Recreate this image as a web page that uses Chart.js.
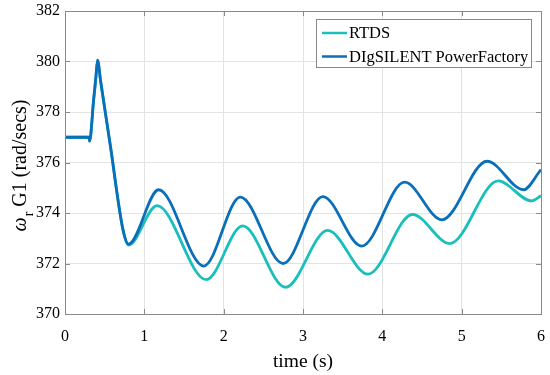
<!DOCTYPE html>
<html>
<head>
<meta charset="utf-8">
<script src="https://cdn.jsdelivr.net/npm/chart.js@4"></script>
<style>
  html, body { margin: 0; padding: 0; background: #ffffff; }
  #wrap { width: 550px; height: 375px; }
</style>
</head>
<body>
<div id="wrap"><canvas id="chart"></canvas></div>
<script>
// Valeurs (temps en s, vitesse en rad/s)
const timeRtds = [0, 0.30, 0.31, 0.36, 0.39, 0.41, 0.45, 0.57, 0.73, 0.80, 1.16, 1.78, 2.24, 2.78, 3.31, 3.82, 4.38, 4.85, 5.46, 5.88, 6.0];
const speedRtds = [377.0, 377.0, 376.85, 378.45, 379.4, 380.05, 379.2, 376.7, 373.35, 372.73, 374.29, 371.36, 373.49, 371.06, 373.31, 371.58, 373.94, 372.79, 375.27, 374.48, 374.68];

const timePf = [0, 0.30, 0.31, 0.36, 0.39, 0.41, 0.45, 0.57, 0.73, 0.80, 1.18, 1.75, 2.21, 2.75, 3.25, 3.74, 4.28, 4.75, 5.32, 5.78, 6.0];
const speedPf = [377.0, 377.0, 376.85, 378.45, 379.4, 380.05, 379.2, 376.7, 373.35, 372.77, 374.92, 371.9, 374.63, 372.0, 374.65, 372.69, 375.22, 373.73, 376.05, 374.92, 375.72];

const seriesNames = ['RTDS', 'DIgSILENT PowerFactory'];
const xTicks = [0, 1, 2, 3, 4, 5, 6];
const yTicks = [370, 372, 374, 376, 378, 380, 382];

const serif = "'Liberation Serif', 'DejaVu Serif', serif";
const axisColor = '#8a8a8a';

function toPoints(xs, ys) {
    return xs.map((x, i) => ({ x: x, y: ys[i] }));
}

// Cadre, graduations intérieures, légende et titre de l'axe y
const matlabLook = {
    id: 'matlabLook',
    afterDraw(chart) {
        const ctx = chart.ctx;
        const a = chart.chartArea;
        const xs = chart.scales.x;
        const ys = chart.scales.y;

        ctx.save();
        ctx.strokeStyle = axisColor;
        ctx.lineWidth = 1;
        ctx.beginPath();
        xTicks.forEach(v => {
            const px = Math.round(xs.getPixelForValue(v)) + 0.5;
            ctx.moveTo(px, a.bottom); ctx.lineTo(px, a.bottom - 5);
            ctx.moveTo(px, a.top); ctx.lineTo(px, a.top + 5);
        });
        yTicks.forEach(v => {
            const py = Math.round(ys.getPixelForValue(v)) + 0.5;
            ctx.moveTo(a.left, py); ctx.lineTo(a.left + 5, py);
            ctx.moveTo(a.right, py); ctx.lineTo(a.right - 5, py);
        });
        ctx.stroke();
        ctx.strokeRect(Math.round(a.left) + 0.5, Math.round(a.top) + 0.5,
                       Math.round(a.right - a.left), Math.round(a.bottom - a.top));

        // Légende
        const lx = 316.5, ly = 19.5, lw = 215, lh = 48;
        ctx.fillStyle = '#ffffff';
        ctx.fillRect(lx, ly, lw, lh);
        ctx.strokeStyle = axisColor;
        ctx.strokeRect(lx, ly, lw, lh);
        ctx.font = '16.5px ' + serif;
        ctx.textBaseline = 'middle';
        chart.data.datasets.forEach((ds, i) => {
            const cy = 33 + i * 23.5;
            ctx.strokeStyle = ds.borderColor;
            ctx.lineWidth = 2.5;
            ctx.beginPath();
            ctx.moveTo(322, cy);
            ctx.lineTo(347, cy);
            ctx.stroke();
            ctx.fillStyle = '#000000';
            ctx.fillText(ds.label, 349, cy + 1);
        });

        // Titre de l'axe y avec indice
        ctx.translate(26, 166);
        ctx.rotate(-Math.PI / 2);
        ctx.fillStyle = '#000000';
        ctx.textBaseline = 'alphabetic';
        const big = '20px ' + serif;
        const bigIt = 'italic 20px ' + serif;
        const small = '14px ' + serif;
        const rest = ' G1 (rad/secs)';
        ctx.font = bigIt; const w1 = ctx.measureText('ω').width;
        ctx.font = small; const w2 = ctx.measureText('r').width;
        ctx.font = big; const w3 = ctx.measureText(rest).width;
        let x0 = -(w1 + w2 + w3) / 2;
        ctx.font = bigIt; ctx.fillText('ω', x0, 0); x0 += w1;
        ctx.font = small; ctx.fillText('r', x0 + 1, 7); x0 += w2 + 1;
        ctx.font = big; ctx.fillText(rest, x0, 0);
        ctx.restore();
    }
};

new Chart(document.getElementById('chart'), {
    type: 'line',
    data: {
        datasets: [{
            label: seriesNames[0],
            data: toPoints(timeRtds, speedRtds),
            borderColor: '#1abfbc',
            borderWidth: 2.8,
            pointRadius: 0,
            cubicInterpolationMode: 'monotone',
            order: 1
        }, {
            label: seriesNames[1],
            data: toPoints(timePf, speedPf),
            borderColor: '#0a6fb8',
            borderWidth: 2.8,
            pointRadius: 0,
            cubicInterpolationMode: 'monotone',
            order: 0
        }]
    },
    options: {
        responsive: true,
        maintainAspectRatio: false,
        animation: false,
        layout: { padding: { top: 11, right: 9, left: 0, bottom: 0 } },
        scales: {
            x: {
                type: 'linear',
                min: 0,
                max: 6,
                afterBuildTicks: s => { s.ticks = xTicks.map(v => ({ value: v })); },
                afterFit: s => { s.height = 61; s.paddingLeft = 0; s.paddingRight = 0; },
                grid: { color: '#e3e3e3', drawTicks: false },
                border: { color: axisColor },
                ticks: {
                    padding: 13,
                    color: '#000000',
                    font: { family: serif, size: 16 }
                },
                title: {
                    display: true,
                    text: 'time (s)',
                    color: '#000000',
                    font: { family: serif, size: 19.5 },
                    padding: { top: 0, bottom: 1 }
                }
            },
            y: {
                min: 370,
                max: 382,
                afterBuildTicks: s => { s.ticks = yTicks.map(v => ({ value: v })); },
                afterFit: s => { s.width = 65; s.paddingTop = 0; s.paddingBottom = 0; },
                grid: { color: '#e3e3e3', drawTicks: false },
                border: { color: axisColor },
                ticks: {
                    padding: 5,
                    color: '#000000',
                    font: { family: serif, size: 16 }
                }
            }
        },
        plugins: {
            legend: { display: false },
            tooltip: { enabled: false }
        }
    },
    plugins: [matlabLook]
});
</script>
</body>
</html>
